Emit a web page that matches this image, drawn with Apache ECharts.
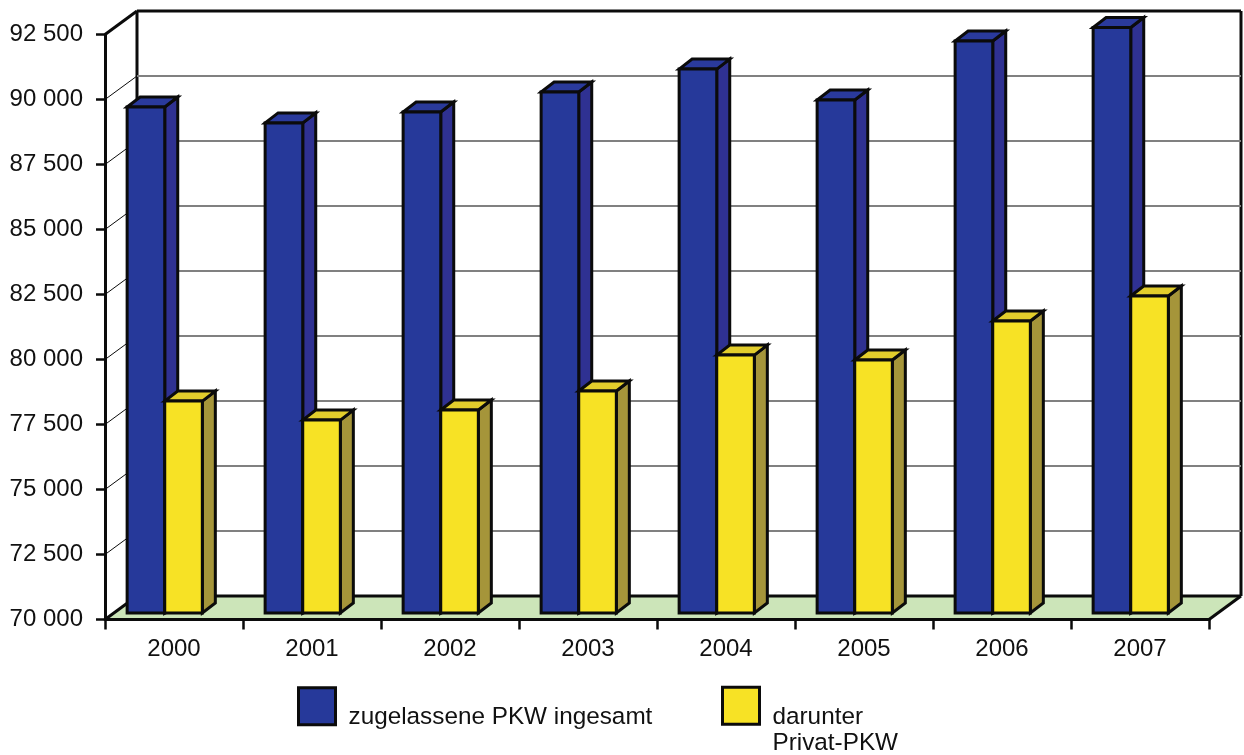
<!DOCTYPE html>
<html>
<head>
<meta charset="utf-8">
<style>html,body{margin:0;padding:0;background:#fff}#chart{width:1244px;height:755px}</style>
<script src="https://cdn.jsdelivr.net/npm/echarts@6/dist/echarts.min.js"></script>
</head>
<body>
<div id="chart"></div>
<script>
// Zugelassene PKW, 2000 bis 2007
const years = ['2000', '2001', '2002', '2003', '2004', '2005', '2006', '2007'];
const pkwTotal = [89460, 88850, 89270, 90040, 90920, 89730, 92000, 92520];
const pkwPrivat = [78150, 77420, 77810, 78540, 79920, 79730, 81230, 82190];
const yTicks = [70000, 72500, 75000, 77500, 80000, 82500, 85000, 87500, 90000, 92500];
const nameTotal = 'zugelassene PKW ingesamt';
const namePrivat = 'darunter\nPrivat-PKW';

const FONT = '"Liberation Sans", Arial, sans-serif';
const INK = '#0b0b0b';
const STROKE = 3;

// Oblique offset of the back wall, and of a bar's front and back faces, from the axis plane
const WALL_DX = 32, WALL_DY = -23.5;
const BAR_DX = 9.5, BAR_DY = -6.5, BAR_DEPTH_X = 13, BAR_DEPTH_Y = -10;

function poly(points, fill, strokeWidth, stroke) {
  return {
    type: 'polygon',
    shape: { points },
    style: { fill, stroke: stroke || INK, lineWidth: strokeWidth, lineJoin: 'miter' }
  };
}
function line(a, b, stroke, lineWidth) {
  return {
    type: 'line',
    shape: { x1: a[0], y1: a[1], x2: b[0], y2: b[1] },
    style: { stroke, lineWidth, fill: null }
  };
}

// Floor, back wall and its grid, all projected from the value axis
function renderWalls(params, api) {
  if (params.dataIndex !== 0) {
    const p = api.coord([0, api.value(1)]);
    const x0 = p[0] - api.size([1, 0])[0] / 2;
    const xEnd = x0 + params.coordSys.width;
    const top = api.value(1) === yTicks[yTicks.length - 1];
    const children = [line([x0, p[1]], [x0 + WALL_DX, p[1] + WALL_DY], INK, top ? STROKE : 1)];
    children.push(line([x0 + WALL_DX, p[1] + WALL_DY], [xEnd + WALL_DX, p[1] + WALL_DY],
      top ? INK : '#808080', top ? STROKE : 2));
    return { type: 'group', children };
  }
  const base = api.coord([0, yTicks[0]]);
  const peak = api.coord([0, yTicks[yTicks.length - 1]]);
  const x0 = base[0] - api.size([1, 0])[0] / 2;
  const xEnd = x0 + params.coordSys.width;
  const backY = base[1] + WALL_DY;
  const topY = peak[1] + WALL_DY;
  return {
    type: 'group',
    children: [
      poly([[x0, base[1]], [xEnd, base[1]], [xEnd + WALL_DX, backY], [x0 + WALL_DX, backY]], '#cce5b9', 0, 'transparent'),
      line([x0 + WALL_DX, backY], [xEnd + WALL_DX, backY], INK, STROKE),
      line([x0 + WALL_DX, topY], [x0 + WALL_DX, backY], INK, STROKE),
      line([xEnd + WALL_DX, topY], [xEnd + WALL_DX, backY], INK, STROKE),
      line([x0, base[1]], [x0 + WALL_DX, backY], INK, STROKE),
      line([xEnd, base[1]], [xEnd + WALL_DX, backY], INK, STROKE)
    ]
  };
}

// One oblique bar: front, top and side faces; slot 0 sits left of the bar centre, slot 1 right
function barRenderer(slot, front, topFace, side) {
  return function (params, api) {
    const cat = api.value(0);
    const head = api.coord([cat, api.value(1)]);
    const foot = api.coord([cat, yTicks[0]]);
    const band = api.size([1, 0])[0];
    const w = band * 0.2725;
    const left = head[0] + BAR_DX - band * 0.5 + band * 0.0915 + w * slot;
    const right = left + w;
    const yTop = head[1] + BAR_DY;
    const yBot = foot[1] + BAR_DY;
    const dx = BAR_DEPTH_X, dy = BAR_DEPTH_Y;
    return {
      type: 'group',
      children: [
        poly([[right, yTop], [right + dx, yTop + dy], [right + dx, yBot + dy], [right, yBot]], side, STROKE),
        poly([[left, yTop], [left + dx, yTop + dy], [right + dx, yTop + dy], [right, yTop]], topFace, STROKE),
        poly([[left, yTop], [right, yTop], [right, yBot], [left, yBot]], front, STROKE)
      ]
    };
  };
}

// Legend captions sit below the swatch's centre: a spacer line above the text pushes them down
function captionRich(spacerHeight) {
  return {
    spacer: { lineHeight: spacerHeight, fontSize: 1 },
    caption: { fontFamily: FONT, fontSize: 24.3, lineHeight: 26.5, color: '#111' }
  };
}
function captionFormatter(name) {
  return '{spacer| }\n' + name.split('\n').map(s => '{caption|' + s + '}').join('\n');
}

const chart = echarts.init(document.getElementById('chart'), null, { renderer: 'canvas' });
chart.setOption({
  animation: false,
  backgroundColor: '#ffffff',
  textStyle: { fontFamily: FONT },
  grid: { left: 105, right: 35, top: 34.5, bottom: 135.5, containLabel: false },
  legend: [
    {
      left: 297, top: 686.25, padding: 0, itemWidth: 37, itemHeight: 37, selectedMode: false,
      data: [{ name: nameTotal, icon: 'rect', itemStyle: { color: '#26399a', borderColor: INK, borderWidth: STROKE } }],
      formatter: captionFormatter,
      textStyle: { fontFamily: FONT, color: '#111', padding: [0, 0, 0, 8], rich: captionRich(23) }
    },
    {
      left: 721, top: 678.75, padding: 0, itemWidth: 37, itemHeight: 37, selectedMode: false,
      data: [{ name: namePrivat, icon: 'rect', itemStyle: { color: '#f7e225', borderColor: INK, borderWidth: STROKE } }],
      formatter: captionFormatter,
      textStyle: { fontFamily: FONT, color: '#111', padding: [0, 0, 0, 8], rich: captionRich(49.5) }
    }
  ],
  xAxis: {
    type: 'category',
    data: years,
    z: 5,
    axisLine: { lineStyle: { color: INK, width: STROKE } },
    axisTick: { show: true, length: 10, alignWithLabel: false, lineStyle: { color: INK, width: 2.5 } },
    axisLabel: { color: '#111', fontSize: 24, fontFamily: FONT, margin: 18 },
    splitLine: { show: false }
  },
  yAxis: {
    type: 'value',
    min: yTicks[0],
    max: yTicks[yTicks.length - 1],
    interval: yTicks[1] - yTicks[0],
    z: 5,
    axisLine: { show: true, onZero: false, lineStyle: { color: INK, width: STROKE } },
    axisTick: { show: true, length: 9, lineStyle: { color: INK, width: 2.5 } },
    axisLabel: {
      color: '#111', fontSize: 24, fontFamily: FONT, margin: 22,
      formatter: v => String(v).replace(/(\d{3})$/, ' $1')
    },
    splitLine: { show: false }
  },
  series: [
    {
      type: 'custom',
      name: 'Wand',
      clip: false,
      z: 1,
      silent: true,
      renderItem: renderWalls,
      encode: { x: 0, y: 1 },
      data: yTicks.map(v => [0, v])
    },
    {
      type: 'custom',
      name: nameTotal,
      clip: false,
      z: 2,
      renderItem: barRenderer(0, '#26399a', '#2a3a9c', '#2f3192'),
      encode: { x: 0, y: 1 },
      data: pkwTotal.map((v, i) => [i, v])
    },
    {
      type: 'custom',
      name: namePrivat,
      clip: false,
      z: 3,
      renderItem: barRenderer(1, '#f7e225', '#e2cd2c', '#a5953a'),
      encode: { x: 0, y: 1 },
      data: pkwPrivat.map((v, i) => [i, v])
    }
  ]
});
</script>
</body>
</html>
